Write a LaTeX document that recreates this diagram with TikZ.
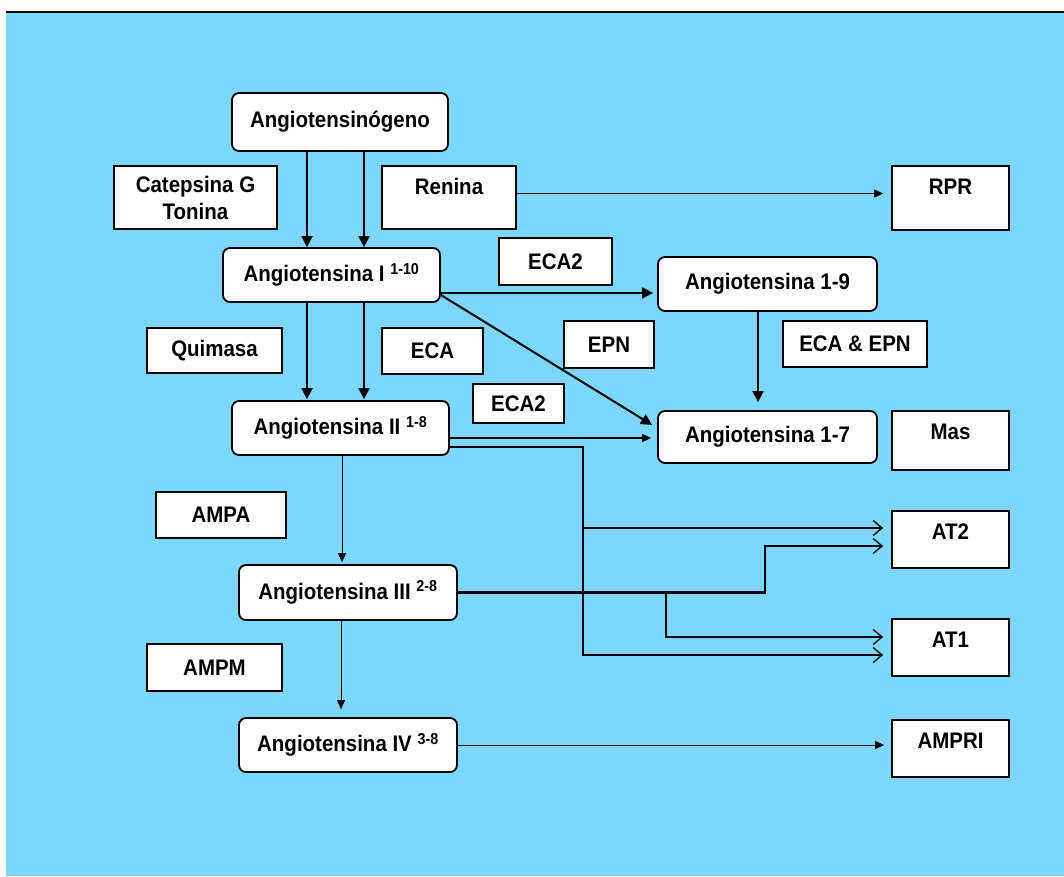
\documentclass[tikz,border=0pt]{standalone}
\usepackage{fontspec}
\setmainfont{Liberation Sans}[FakeStretch=0.91]
\usepackage{tikz}
\usetikzlibrary{arrows.meta, positioning}
\definecolor{skyback}{RGB}{125,215,253}

\begin{document}
\begin{tikzpicture}[x=1pt,y=-1pt,font=\fontsize{22.5}{27}\selectfont\bfseries]
 \tikzstyle{pepbox}=[rectangle,rounded corners=7pt,draw=black,line width=1.8pt,
   fill=white,inner sep=0pt]
 \tikzstyle{enzbox}=[rectangle,draw=black,line width=1.8pt,fill=white,inner sep=0pt]
 \tikzstyle{recbox}=[enzbox,minimum width=117pt,text height=28pt]
 \tikzstyle{fatarrow}=[line width=2pt,-{Triangle[length=11pt,width=11pt]}]
 \tikzstyle{thinarrow}=[line width=1pt,-{Triangle[length=9pt,width=8pt]}]
 \tikzstyle{feedline}=[line width=2.2pt,
   -{Straight Barb[length=9pt,width=15pt,line width=1.3pt]}]

 \useasboundingbox (0,0) rectangle (1064,876);
 \fill[skyback] (6,12) rectangle (1064,876);
 \draw[line width=1.5pt] (6,12) -- (1064,12);

 % peptides
 \node (angiogen) [pepbox,minimum width=216pt,minimum height=58pt] at (340,122)
   {Angiotensinógeno};
 \node (ang1) [pepbox,minimum width=217pt,minimum height=54pt] at (331.5,275)
   {Angiotensina I \textsuperscript{1-10}};
 \node (ang2) [pepbox,minimum width=217pt,minimum height=54pt] at (340.5,428)
   {Angiotensina II \textsuperscript{1-8}};
 \node (ang3) [pepbox,minimum width=218pt,minimum height=55pt] at (348,592.5)
   {Angiotensina III \textsuperscript{2-8}};
 \node (ang4) [pepbox,minimum width=218pt,minimum height=54pt] at (348,745)
   {Angiotensina IV \textsuperscript{3-8}};
 \node (ang19) [pepbox,minimum width=219pt,minimum height=54pt] at (767.5,284)
   {Angiotensina 1-9};
 \node (ang17) [pepbox,minimum width=219pt,minimum height=52pt] at (767.5,437)
   {Angiotensina 1-7};

 % enzymes
 \node (catep) [enzbox,align=center,minimum width=163pt,minimum height=63pt]
   at (195.5,197.5) {Catepsina G\\Tonina};
 \node (renina) [enzbox,minimum width=134pt,text height=28pt,text depth=35pt]
   at (449,197.5) {Renina};
 \node (eca2a) [enzbox,minimum width=113pt,minimum height=47pt] at (555.5,261.5) {ECA2};
 \node (epn) [enzbox,minimum width=90pt,minimum height=47pt] at (609,344.5) {EPN};
 \node (ecaepn) [enzbox,minimum width=144pt,minimum height=46pt] at (855,344)
   {ECA \& EPN};
 \node (quimasa) [enzbox,minimum width=135pt,minimum height=45pt] at (214.5,350.5)
   {Quimasa};
 \node (eca) [enzbox,minimum width=101pt,minimum height=46pt] at (432.5,351) {ECA};
 \node (eca2b) [enzbox,minimum width=91pt,minimum height=39pt] at (518.5,403.5) {ECA2};
 \node (ampa) [enzbox,minimum width=130pt,minimum height=46pt] at (221,515) {AMPA};
 \node (ampm) [enzbox,minimum width=135pt,minimum height=47pt] at (214.5,667.5) {AMPM};

 % receptors
 \node (rpr) [recbox,text depth=36pt] at (950.5,198) {RPR};
 \node (mas) [recbox,text depth=31pt] at (950.5,440.5) {Mas};
 \node (at2) [recbox,text depth=29pt] at (950.5,539.5) {AT2};
 \node (at1) [recbox,text depth=29pt] at (950.5,647.5) {AT1};
 \node (ampri) [recbox,text depth=29pt] at (950.5,748.5) {AMPRI};

 \draw[fatarrow] ([xshift=-33pt]angiogen.south) -- ([xshift=-24.5pt]ang1.north);
 \draw[fatarrow] ([xshift=24pt]angiogen.south) -- ([xshift=32.5pt]ang1.north);
 \draw[fatarrow] ([xshift=-24.5pt]ang1.south) -- ([xshift=-33.5pt,yshift=1pt]ang2.north);
 \draw[fatarrow] ([xshift=32.5pt]ang1.south) -- ([xshift=23.5pt,yshift=1pt]ang2.north);
 \draw[fatarrow,shorten >=4pt] ([yshift=-18pt]ang1.east) -- ([yshift=-9pt]ang19.west);
 \draw[fatarrow,shorten >=6pt] ([yshift=-20pt]ang1.east) -- ([yshift=9pt]ang17.west);
 \draw[fatarrow] ([xshift=-9.5pt]ang19.south) -- ([xshift=-9.5pt,yshift=8pt]ang17.north);

 \draw[thinarrow,shorten >=8pt] ([yshift=4pt]renina.east) -- ([yshift=4.5pt]rpr.west);
 \draw[thinarrow,line width=1.5pt,shorten >=6pt] ([yshift=-10pt]ang2.east)
   -- ([yshift=-1pt]ang17.west);
 \draw[thinarrow] ([xshift=1.5pt]ang2.south) -- ([xshift=-6pt,yshift=2pt]ang3.north);
 \draw[thinarrow] ([xshift=-7pt]ang3.south) -- ([xshift=-7pt,yshift=8pt]ang4.north);
 \draw[thinarrow,shorten >=7pt] (ang4.east) -- ([yshift=3.5pt]ampri.west);

 % receptor feeds
 \coordinate (at2a) at ([xshift=-8pt,yshift=11.5pt]at2.west);
 \coordinate (at2b) at ([xshift=-8pt,yshift=-6.5pt]at2.west);
 \coordinate (at1a) at ([xshift=-8pt,yshift=10.5pt]at1.west);
 \coordinate (at1b) at ([xshift=-8pt,yshift=-7.5pt]at1.west);
 \coordinate (split2) at (583,447);
 \coordinate (jog3) at (765,546);
 \coordinate (split3) at (666,592.5);

 \draw[feedline,line width=1.7pt] ([yshift=-19pt]ang2.east) -- (split2) |- (at1b);
 \draw[feedline] (split2 |- at2a) -- (at2a);
 \draw[feedline] (ang3.east) -| (jog3) -- (at2b);
 \draw[feedline] (split3) |- (at1a);
\end{tikzpicture}
\end{document}
